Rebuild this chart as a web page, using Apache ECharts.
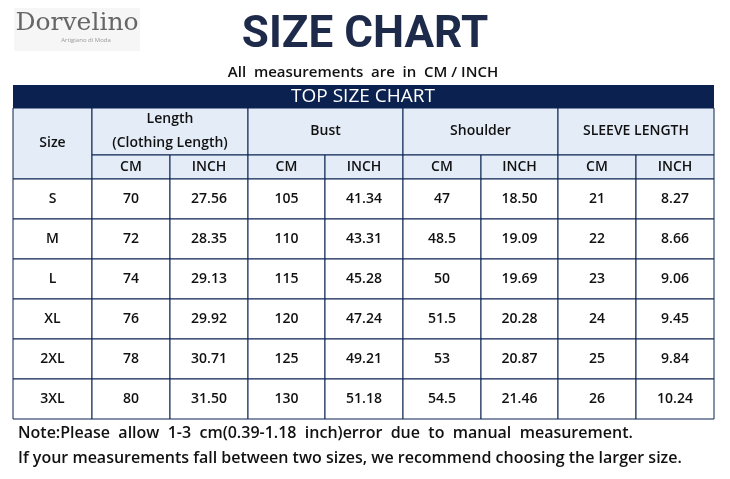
<!DOCTYPE html>
<html><head><meta charset="utf-8">
<script src="https://cdn.jsdelivr.net/npm/echarts@6/dist/echarts.min.js"></script>
<style>html,body{margin:0;padding:0;background:#fff}#c{width:730px;height:479px}</style>
</head><body><div id="c"></div>
<script>
var sizes = ["S", "M", "L", "XL", "2XL", "3XL"];
var lengthCm = ["70", "72", "74", "76", "78", "80"];
var lengthIn = ["27.56", "28.35", "29.13", "29.92", "30.71", "31.50"];
var bustCm = ["105", "110", "115", "120", "125", "130"];
var bustIn = ["41.34", "43.31", "45.28", "47.24", "49.21", "51.18"];
var shoulderCm = ["47", "48.5", "50", "51.5", "53", "54.5"];
var shoulderIn = ["18.50", "19.09", "19.69", "20.28", "20.87", "21.46"];
var sleeveCm = ["21", "22", "23", "24", "25", "26"];
var sleeveIn = ["8.27", "8.66", "9.06", "9.45", "9.84", "10.24"];
var groups = ["Length\n(Clothing Length)", "Bust", "Shoulder", "SLEEVE LENGTH"];
var units = ["CM", "INCH"];

var chart = echarts.init(document.getElementById("c"));
var font = "'Open Sans', 'Noto Sans', sans-serif";
var colX = [13, 92, 170, 248, 325, 403, 481, 558, 636, 714];
var h1 = 108, h2 = 155, h3 = 179, rowH = 40;
var els = [];

function cell(x0, x1, y0, y1, txt, fill, size) {
  els.push({ type: "rect", shape: { x: x0, y: y0, width: x1 - x0, height: y1 - y0 },
    style: { fill: fill, stroke: "#0b2250", lineWidth: 1 } });
  els.push({ type: "text", x: (x0 + x1) / 2, y: (y0 + y1) / 2,
    style: { text: txt, fill: "#111", font: "600 " + (size || 14) + "px " + font,
      align: "center", verticalAlign: "middle", lineHeight: 24 } });
}

// header
var hdr = "#e4ecf7";
cell(colX[0], colX[1], h1, h3, "Size", hdr);
groups.forEach(function (g, i) {
  var a = colX[1 + i * 2], b = colX[3 + i * 2];
  cell(a, b, h1, h2, g, hdr);
  units.forEach(function (u, j) { cell(colX[1 + i * 2 + j], colX[2 + i * 2 + j], h2, h3, u, hdr); });
});
// body
var cols = [sizes, lengthCm, lengthIn, bustCm, bustIn, shoulderCm, shoulderIn, sleeveCm, sleeveIn];
sizes.forEach(function (s, r) {
  cols.forEach(function (col, c) {
    cell(colX[c], colX[c + 1], h3 + r * rowH, h3 + (r + 1) * rowH, col[r], "#fff");
  });
});

els.push({ type: "rect", shape: { x: 13, y: 85, width: 701, height: 23 }, style: { fill: "#0b2250" } });
els.push({ type: "text", x: 363, y: 97, style: { text: "TOP SIZE CHART", fill: "#fff",
  font: "19px " + font, align: "center", verticalAlign: "middle" } });
els.push({ type: "text", x: 365, y: 36, style: { text: "SIZE CHART", fill: "#1d2a4a",
  font: "bold 44px Roboto, 'Liberation Sans', sans-serif", align: "center", verticalAlign: "middle" } });
els.push({ type: "text", x: 363, y: 73, style: { text: "All  measurements  are  in  CM / INCH", fill: "#111",
  font: "600 15px " + font, align: "center", verticalAlign: "middle" } });
els.push({ type: "rect", shape: { x: 14, y: 8, width: 126, height: 43 }, style: { fill: "#f6f6f6" } });
els.push({ type: "text", x: 77, y: 23, style: { text: "Dorvelino", fill: "#666",
  font: "25px 'DejaVu Serif', serif", align: "center", verticalAlign: "middle" } });
els.push({ type: "text", x: 86, y: 40, style: { text: "Artigiano di Moda", fill: "#999",
  font: "6px " + font, align: "center", verticalAlign: "middle" } });
els.push({ type: "text", x: 18, y: 433, style: { text: "Note:Please  allow  1-3  cm(0.39-1.18  inch)error  due  to  manual  measurement.",
  fill: "#111", font: "600 16px " + font, verticalAlign: "middle" } });
els.push({ type: "text", x: 18, y: 458, style: { text: "If your measurements fall between two sizes, we recommend choosing the larger size.",
  fill: "#111", font: "600 16px " + font, verticalAlign: "middle" } });

chart.setOption({ animation: false, graphic: { elements: els } });
</script></body></html>
